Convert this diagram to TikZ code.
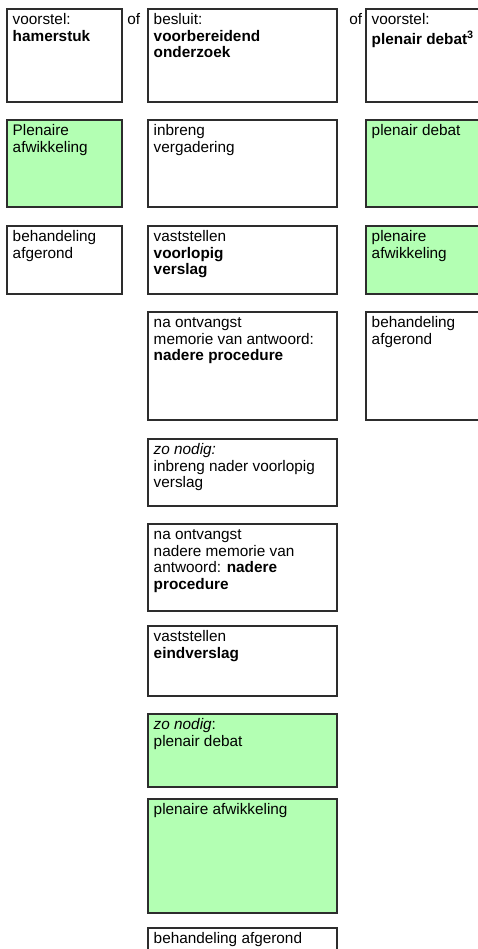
\documentclass[tikz,border=0pt]{standalone}
\usepackage{fontspec}
\setmainfont{Liberation Sans}
\usetikzlibrary{fit}
\definecolor{stepgreen}{RGB}{179,255,179}
\definecolor{edgegray}{RGB}{45,45,45}
\tikzset{
  stagebox/.style={draw=edgegray, line width=0.8pt, fill=white, inner sep=0pt},
  greenbox/.style={stagebox, fill=stepgreen},
  stagetext/.style={inner sep=0pt, anchor=north west, align=left, font={\fontsize{11.5}{12.4}\selectfont}},
  oftext/.style={inner sep=0pt, anchor=base west, font={\fontsize{11.5}{12.4}\selectfont}}
}
\newcommand\stagenode[7]{%
  \path (#2,#3) coordinate (#1-nw) (#4,#5) coordinate (#1-se);
  \node[#6, fit=(#1-nw)(#1-se)] (#1) {};
  \node[stagetext] (#1-t) at ([xshift=4.5pt,yshift=-3.4pt]#1.north west) {\strut #7};
}
\begin{document}
\begin{tikzpicture}[x=0.75pt,y=-0.75pt]
\useasboundingbox (0,0) rectangle (478,949);
\clip (0,0) rectangle (478,949);
% column 1
\stagenode{a1}{7}{9}{122}{102}{stagebox}{voorstel:\\\textbf{hamerstuk}}
\stagenode{a2}{7}{120}{122}{207}{greenbox}{Plenaire\\afwikkeling}
\stagenode{a3}{7}{226}{122}{294}{stagebox}{behandeling\\afgerond}
% column 2
\stagenode{b1}{148}{9}{337}{102}{stagebox}{besluit:\\\textbf{voorbereidend}\\\textbf{onderzoek}}
\stagenode{b2}{148}{120}{337}{207}{stagebox}{inbreng\\vergadering}
\stagenode{b3}{148}{226}{337}{294}{stagebox}{vaststellen\\\textbf{voorlopig}\\\textbf{verslag}}
\stagenode{b4}{148}{312}{337}{420}{stagebox}{na ontvangst\\memorie van antwoord:\\\textbf{nadere procedure}}
\stagenode{b5}{148}{439}{337}{506}{stagebox}{\textit{zo nodig:}\\inbreng nader voorlopig\\verslag}
\stagenode{b6}{148}{524}{337}{611}{stagebox}{na ontvangst\\nadere memorie van\\antwoord: \textbf{nadere}\\\textbf{procedure}}
\stagenode{b7}{148}{626}{337}{696}{stagebox}{vaststellen\\\textbf{eindverslag}}
\stagenode{b8}{148}{714}{337}{787}{greenbox}{\textit{zo nodig}:\\plenair debat}
\stagenode{b9}{148}{799}{337}{913}{greenbox}{plenaire afwikkeling}
\stagenode{b10}{148}{928}{337}{975}{stagebox}{behandeling afgerond}
% column 3
\stagenode{c1}{366}{9}{495}{102}{stagebox}{voorstel:\\\textbf{plenair debat}\textsuperscript{\textbf{3}}}
\stagenode{c2}{366}{120}{495}{207}{greenbox}{plenair debat}
\stagenode{c3}{366}{226}{495}{294}{greenbox}{plenaire\\afwikkeling}
\stagenode{c4}{366}{312}{495}{420}{stagebox}{behandeling\\afgerond}
% "of" labels
\node[oftext] (of1) at (127,25) {of};
\node[oftext] (of2) at (349,25) {of};
\end{tikzpicture}
\end{document}
